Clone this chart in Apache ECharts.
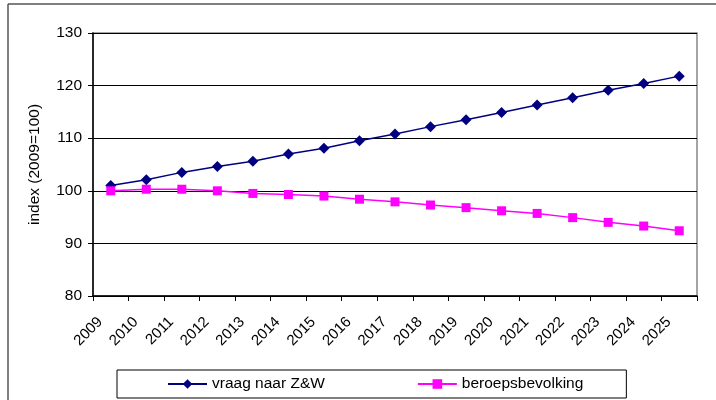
<!DOCTYPE html>
<html>
<head>
<meta charset="utf-8">
<script src="https://cdn.jsdelivr.net/npm/echarts@6/dist/echarts.min.js"></script>
<style>
  html, body { margin: 0; padding: 0; background: #fff; }
  #chart { width: 716px; height: 400px; }
</style>
</head>
<body>
<div id="chart"></div>
<script>
// years on the x axis
const years = ['2009', '2010', '2011', '2012', '2013', '2014', '2015', '2016', '2017',
  '2018', '2019', '2020', '2021', '2022', '2023', '2024', '2025'];
// index values
const vraag = [101.0, 102.1, 103.5, 104.6, 105.6, 107.0, 108.1, 109.5, 110.8,
  112.2, 113.5, 114.9, 116.3, 117.7, 119.1, 120.4, 121.8];
const beroeps = [100.0, 100.3, 100.3, 100.0, 99.5, 99.3, 99.0, 98.4, 97.9,
  97.3, 96.8, 96.2, 95.7, 94.9, 94.0, 93.3, 92.4];
const yTicks = [80, 90, 100, 110, 120, 130];

const font = 'Liberation Sans, Arial, sans-serif';
const chart = echarts.init(document.getElementById('chart'));

chart.setOption({
  animation: false,
  textStyle: { fontFamily: font, color: '#000' },
  graphic: [
    // outer frame (only top and left visible)
    { type: 'line', shape: { x1: 8, y1: 4, x2: 716, y2: 4 }, style: { stroke: '#555', lineWidth: 1.5 } },
    { type: 'line', shape: { x1: 8, y1: 4, x2: 8, y2: 400 }, style: { stroke: '#555', lineWidth: 1.5 } }
  ],
  grid: {
    left: 93, right: 19, top: 33, bottom: 104,
    show: true, borderColor: '#888', borderWidth: 1.5
  },
  legend: {
    left: 117, top: 370,
    padding: [6, 43, 6, 50],
    borderColor: '#000', borderWidth: 1,
    itemGap: 92, itemWidth: 39, itemHeight: 12,
    textStyle: { fontFamily: font, fontSize: 15.5, color: '#000' },
    data: ['vraag naar Z&W', 'beroepsbevolking']
  },
  xAxis: {
    type: 'category',
    data: years,
    boundaryGap: true,
    axisLine: { lineStyle: { color: '#000', width: 1.5 } },
    axisTick: { show: true, length: 5, lineStyle: { color: '#000' } },
    axisLabel: {
      rotate: 45, margin: 13, padding: [0, 15, 0, 0],
      fontFamily: font, fontSize: 15, color: '#000', interval: 0
    },
    splitLine: { show: false }
  },
  yAxis: {
    type: 'value',
    min: yTicks[0], max: yTicks[yTicks.length - 1], interval: 10,
    name: 'index (2009=100)',
    nameLocation: 'middle', nameGap: 50, nameRotate: 90,
    nameTextStyle: { fontFamily: font, fontSize: 15.5, color: '#000' },
    axisLine: { show: true, lineStyle: { color: '#000', width: 1.5 } },
    axisTick: { show: true, length: 5, lineStyle: { color: '#000' } },
    axisLabel: { margin: 11, fontFamily: font, fontSize: 15.5, color: '#000' },
    splitLine: { show: true, lineStyle: { color: '#000', width: 1 } }
  },
  series: [
    {
      name: 'vraag naar Z&W',
      type: 'line',
      data: vraag,
      symbol: 'diamond', symbolSize: 11,
      itemStyle: { color: '#000080' },
      lineStyle: { color: '#000080', width: 1.5 }
    },
    {
      name: 'beroepsbevolking',
      type: 'line',
      data: beroeps,
      symbol: 'rect', symbolSize: 9,
      itemStyle: { color: '#ff00ff' },
      lineStyle: { color: '#ff00ff', width: 1.5 }
    }
  ]
});
</script>
</body>
</html>
